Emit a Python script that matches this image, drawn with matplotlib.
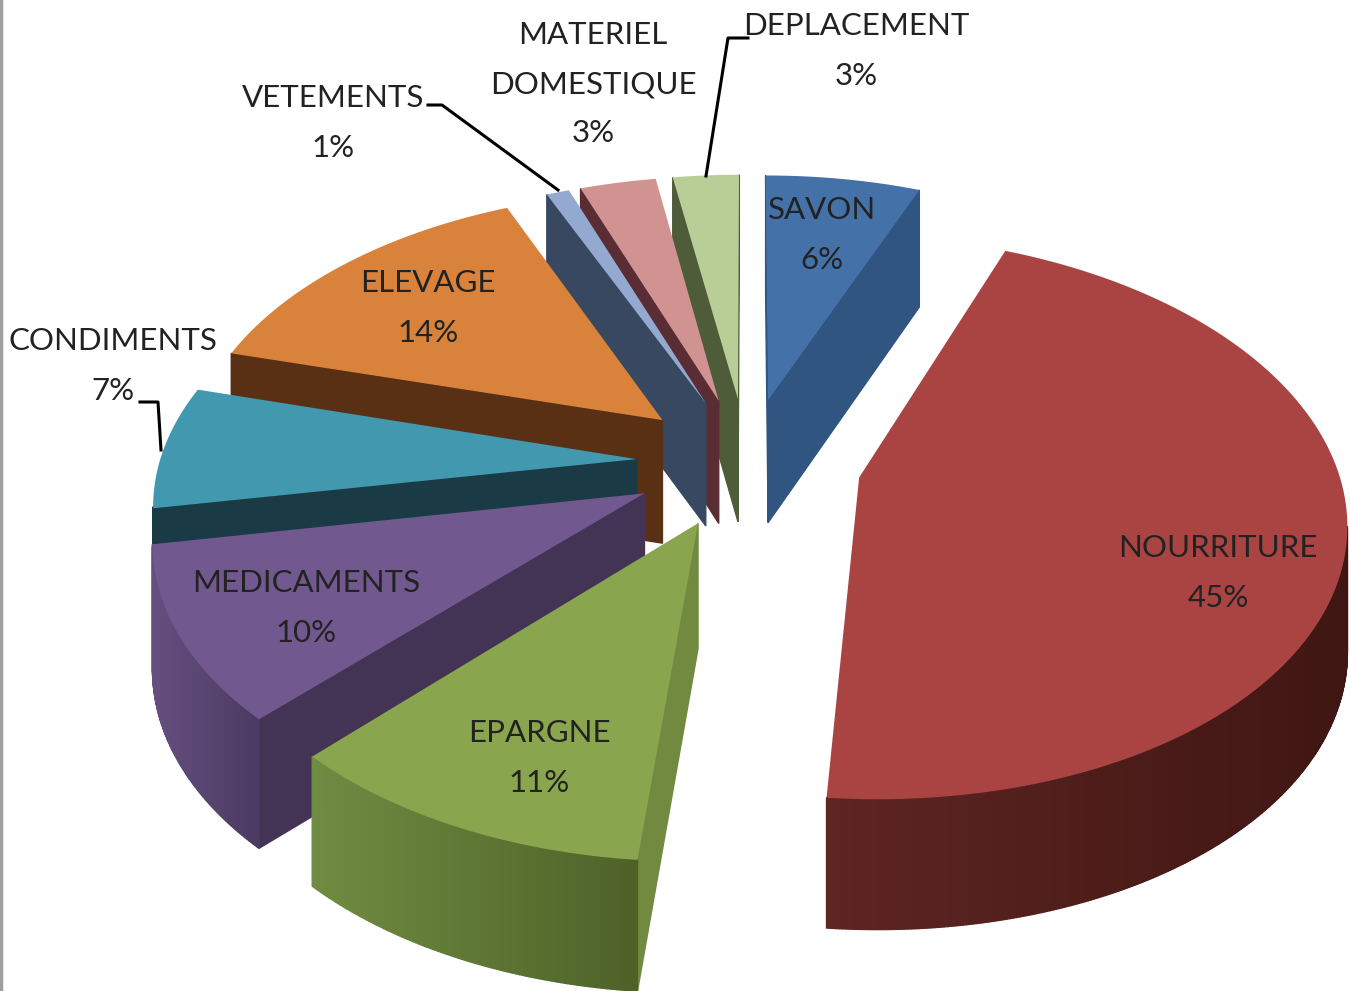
import numpy as np
import matplotlib
matplotlib.use("Agg")
from matplotlib import pyplot as plt
from matplotlib.colors import to_rgb

# data, clockwise from 12 o'clock (labels are rounded)
labels = ["SAVON", "NOURRITURE", "EPARGNE", "MEDICAMENTS", "CONDIMENTS",
          "ELEVAGE", "VETEMENTS", "MATERIEL\nDOMESTIQUE", "DEPLACEMENT"]
values = [6.1, 45.3, 10.7, 10, 7.1, 14.2, 0.9, 3, 2.6]

# colours: top, cut wall, rim wall left, rim wall right
top_cols = ["#4472A8", "#AA4442", "#89A54E", "#71588F", "#4198AF", "#D9823B", "#93A9CF", "#D19392", "#B9CD96"]
cut_cols = ["#2F5580", "#3F1613", "#718A40", "#433355", "#1A3A45", "#5A3015", "#384860", "#5A2D35", "#4E5C3A"]
rim_left = ["#2F5580", "#5E2522", "#708C42", "#654F80", "#1A3A45", "#5A3015", "#384860", "#5A2D35", "#4E5C3A"]
rim_right = ["#2F5580", "#3F1613", "#4E6228", "#4B3A62", "#1A3A45", "#5A3015", "#384860", "#5A2D35", "#4E5C3A"]

# drawing order, back to front
order = [8, 7, 6, 0, 5, 4, 3, 1, 2]

# view parameters
cx, cy = 747, 462
rad_x, rad_y = 477, 272
persp = 0.14
depth = 124
explode = [0.24, 0.24, 0.24, 0.24, 0.232, 0.24, 0.24, 0.24, 0.24]

def project(u, v):
    w = 1 + persp * v
    return cx + rad_x * u / w, cy - rad_y * v / w, depth - 6 * v

def wedge_outline(start, end, ex):
    # start, end are fractions of the circle
    mid = (start + end) / 2 * 2 * np.pi
    ox = ex * np.sin(mid)
    oy = ex * np.cos(mid)
    ang = np.linspace(start, end, max(int((end - start) * 1080), 3)) * 2 * np.pi
    u = np.r_[ox, ox + np.sin(ang)]
    v = np.r_[oy, oy + np.cos(ang)]
    return project(u, v)

def area(x, y):
    return 0.5 * np.sum(x * np.roll(y, -1) - np.roll(x, -1) * y)

fig = plt.figure(figsize=(13.5, 9.91), dpi=100)
ax = fig.add_axes([0, 0, 1, 1])
ax.set_xlim(0, 1350)
ax.set_ylim(991, 0)
ax.axis("off")
plt.rcParams['font.family'] = ['Lato', 'DejaVu Sans']

fracs = np.array(values) / sum(values)
starts = np.r_[0, np.cumsum(fracs)[:-1]]

for i in order:
    x, y, d = wedge_outline(starts[i], starts[i] + fracs[i], explode[i])
    yb = y + d
    n = len(x)
    rim_x = x[1:]
    for j in range(n):
        k = (j + 1) % n
        qx = np.array([x[j], x[k], x[k], x[j]])
        qy = np.array([y[j], y[k], yb[k], yb[j]])
        # only the faces turned to the viewer
        if area(qx, qy) >= 0:
            continue
        if j == 0 or k == 0:
            col = cut_cols[i]
        else:
            t = (x[j] - rim_x.min()) / (rim_x.max() - rim_x.min())
            col = np.array(to_rgb(rim_left[i])) * (1 - t) + np.array(to_rgb(rim_right[i])) * t
        ax.fill(qx, qy, color=col, lw=1.0, zorder=1)
    ax.fill(x, y, color=top_cols[i], lw=0, zorder=1)

# labels
pct_txt = [str(round(v)) + "%" for v in values]
label_x = [822, 1218, 539, 306, 113, 428, 333, 593, 856]
label_y = [235, 573, 758, 608, 366, 308, 123, 84, 51]
for i in range(len(labels)):
    ax.text(label_x[i], label_y[i], labels[i] + "\n" + pct_txt[i], ha="center", va="center",
            fontsize=22.5, color="#222222", linespacing=1.93, zorder=5)

# leader lines
lines_x = [[140, 158, 161], [428, 442, 558], [748, 728, 706]]
lines_y = [[402, 402, 450], [105, 105, 190], [38, 38, 176]]
for lx, ly in zip(lines_x, lines_y):
    ax.plot(lx, ly, color="black", lw=2.2, zorder=4)

# grey frame line down the left edge
ax.plot([1, 1], [0, 991], color="#a0a0a0", lw=2.5, zorder=6)

fig.savefig("out.png", dpi=100)
